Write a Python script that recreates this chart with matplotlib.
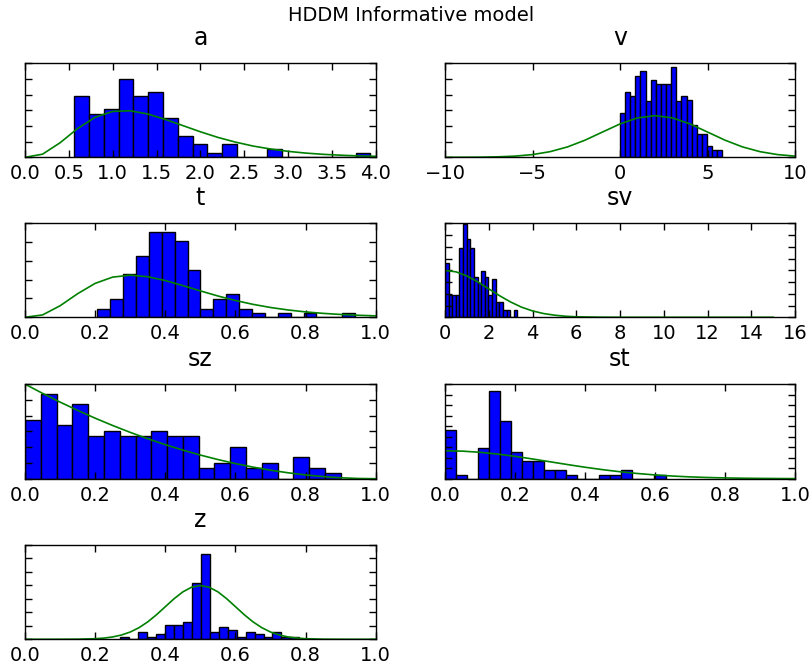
import numpy as np
import matplotlib.pyplot as plt

# posterior histograms: bin range and bar heights (density), 20 bins each
a_range = (0.56, 3.94)
a_heights = [0.777, 0.555, 0.611, 0.999, 0.777, 0.833, 0.50, 0.278, 0.167, 0.056,
             0.167, 0, 0, 0.111, 0, 0, 0, 0, 0, 0.056]

v_range = (0.0, 5.85)
v_heights = [0.141, 0.208, 0.195, 0.260, 0.275, 0.181, 0.248, 0.233, 0.233, 0.233,
             0.287, 0.181, 0.195, 0.183, 0.103, 0.076, 0.076, 0.036, 0.022, 0.022]

t_range = (0.206, 0.941)
t_heights = [0.46, 0.97, 2.29, 3.28, 4.56, 4.56, 4.06, 2.50, 0.46, 0.97,
             1.22, 0.46, 0.23, 0, 0.23, 0, 0.23, 0, 0, 0.23]

sv_range = (0.0, 3.31)
sv_heights = [0.46, 0.19, 0.19, 0.19, 0.59, 0.79, 0.665, 0.59, 0.34, 0.29,
              0.39, 0.34, 0.19, 0.33, 0.13, 0.13, 0.064, 0.064, 0, 0.064]

sz_range = (0.0, 0.9)
sz_heights = [1.859, 2.683, 1.690, 2.356, 1.352, 1.521, 1.352, 1.352, 1.521, 1.352,
              1.352, 0.338, 0.507, 1.014, 0.338, 0.507, 0, 0.676, 0.338, 0.169]

st_range = (0.0, 0.63)
st_heights = [4.60, 0.38, 0, 2.92, 8.37, 5.45, 2.54, 1.71, 1.71, 0.86,
              0.86, 0.38, 0, 0, 0.38, 0.38, 0.86, 0, 0, 0.38]

z_range = (0.272, 0.782)
z_heights = [0.18, 0, 0.54, 0.18, 0.36, 1.08, 1.08, 1.26, 4.15, 6.32,
             0.54, 0.90, 0.72, 0.18, 0.54, 0.36, 0.18, 0.54, 0.18, 0.18]

# prior curves (green)
a_prior_x = [0.0, 0.2, 0.4, 0.6, 0.8, 1.0, 1.2, 1.4, 1.6, 1.8, 2.0,
             2.2, 2.4, 2.6, 2.8, 3.0, 3.2, 3.4, 3.6, 3.8, 4.0]
a_prior_y = [0.0, 0.040, 0.186, 0.368, 0.511, 0.586, 0.594, 0.553, 0.484, 0.405, 0.326,
             0.254, 0.194, 0.144, 0.106, 0.076, 0.054, 0.038, 0.027, 0.018, 0.013]

v_prior_x = [-10, -9, -8, -7, -6, -5, -4, -3, -2, -1, 0,
             1, 2, 3, 4, 5, 6, 7, 8, 9, 10]
v_prior_y = [0.0000, 0.0002, 0.0005, 0.0015, 0.0038, 0.0087, 0.0180, 0.0332, 0.0547, 0.0807, 0.1065,
             0.1258, 0.1330, 0.1258, 0.1065, 0.0807, 0.0547, 0.0332, 0.0180, 0.0087, 0.0038]

t_prior_x = [0.0, 0.05, 0.1, 0.15, 0.2, 0.25, 0.3, 0.35, 0.4, 0.45, 0.5,
             0.55, 0.6, 0.65, 0.7, 0.75, 0.8, 0.85, 0.9, 0.95, 1.0]
t_prior_y = [0.0, 0.126, 0.613, 1.255, 1.805, 2.138, 2.240, 2.158, 1.954, 1.687, 1.404,
             1.133, 0.892, 0.688, 0.521, 0.389, 0.286, 0.208, 0.150, 0.107, 0.076]

sv_prior_x = [0.0, 0.5, 1.0, 1.5, 2.0, 2.5, 3.0, 3.5, 4.0, 4.5, 5.0, 5.5, 6.0,
              7.0, 8.0, 9.0, 10.0, 11.0, 12.0, 13.0, 14.0, 15.0]
sv_prior_y = [0.399, 0.387, 0.352, 0.301, 0.242, 0.183, 0.130, 0.086, 0.054, 0.032, 0.018, 0.009, 0.004,
              0.001, 0.0001, 0, 0, 0, 0, 0, 0, 0]

sz_prior_x = [0.0, 0.05, 0.1, 0.15, 0.2, 0.25, 0.3, 0.35, 0.4, 0.45, 0.5,
              0.55, 0.6, 0.65, 0.7, 0.75, 0.8, 0.85, 0.9, 0.95, 1.0]
sz_prior_y = [3.0, 2.708, 2.43, 2.168, 1.92, 1.688, 1.47, 1.268, 1.08, 0.908, 0.75,
              0.608, 0.48, 0.368, 0.27, 0.188, 0.12, 0.068, 0.03, 0.008, 0.0]

st_prior_x = [0.0, 0.05, 0.1, 0.15, 0.2, 0.25, 0.3, 0.35, 0.4, 0.45, 0.5,
              0.55, 0.6, 0.65, 0.7, 0.75, 0.8, 0.85, 0.9, 0.95, 1.0]
st_prior_y = [2.660, 2.623, 2.516, 2.347, 2.130, 1.879, 1.613, 1.347, 1.093, 0.864, 0.663,
              0.496, 0.360, 0.254, 0.175, 0.117, 0.076, 0.048, 0.030, 0.018, 0.010]

z_prior_x = [0.0, 0.05, 0.1, 0.15, 0.2, 0.225, 0.25, 0.275, 0.3, 0.325, 0.35, 0.375, 0.4, 0.425,
             0.45, 0.475, 0.5, 0.525, 0.55, 0.575, 0.6, 0.625, 0.65, 0.675, 0.7, 0.725,
             0.75, 0.775, 0.8, 0.85, 0.9, 0.95, 1.0]
z_prior_y = [0.0, 0.0002, 0.0013, 0.0087, 0.0443, 0.0909, 0.1753, 0.3174, 0.5399, 0.8629, 1.2952, 1.8264, 2.4197, 3.0113,
             3.5207, 3.8667, 3.9894, 3.8667, 3.5207, 3.0113, 2.4197, 1.8264, 1.2952, 0.8629, 0.5399, 0.3174,
             0.1753, 0.0909, 0.0443, 0.0087, 0.0013, 0.0002, 0.0]

fig = plt.figure(figsize=(8.1, 6.66), dpi=100)
fig.suptitle('HDDM Informative model', x=0.508, y=0.991, va='top', fontsize=14)

# name, heights, range, prior, xlim, xticks, ylim top, ystep, axes position
panels = [
    ('a', a_heights, a_range, a_prior_x, a_prior_y, (0, 4), np.arange(0, 4.01, 0.5), 1.2, 0.2, [0.0309, 0.7638, 0.4330, 0.1411]),
    ('v', v_heights, v_range, v_prior_x, v_prior_y, (-10, 10), [-10, -5, 0, 5, 10], 0.3, 0.05, [0.5494, 0.7638, 0.4321, 0.1411]),
    ('t', t_heights, t_range, t_prior_x, t_prior_y, (0, 1), np.arange(0, 1.01, 0.2), 5, 1, [0.0309, 0.5236, 0.4330, 0.1411]),
    ('sv', sv_heights, sv_range, sv_prior_x, sv_prior_y, (0, 16), np.arange(0, 17, 2), 0.8, 0.1, [0.5494, 0.5236, 0.4321, 0.1411]),
    ('sz', sz_heights, sz_range, sz_prior_x, sz_prior_y, (0, 1), np.arange(0, 1.01, 0.2), 3, 0.5, [0.0309, 0.2812, 0.4330, 0.1420]),
    ('st', st_heights, st_range, st_prior_x, st_prior_y, (0, 1), np.arange(0, 1.01, 0.2), 9, 1, [0.5494, 0.2812, 0.4321, 0.1420]),
    ('z', z_heights, z_range, z_prior_x, z_prior_y, (0, 1), np.arange(0, 1.01, 0.2), 7, 1, [0.0309, 0.0401, 0.4330, 0.1416]),
]

for name, heights, rng, px, py, xlim, xticks, ytop, ystep, pos in panels:
    ax = fig.add_axes(pos)
    edges = np.linspace(rng[0], rng[1], len(heights) + 1)
    ax.bar(edges[:-1], heights, width=np.diff(edges), align='edge',
           color='#0000ff', edgecolor='black', linewidth=1)
    ax.plot(px, py, color='#008000', linewidth=1.2)
    ax.set_xlim(xlim)
    ax.set_ylim(0, ytop)
    ax.set_xticks(xticks)
    ax.set_yticks(np.arange(0, ytop + ystep / 2, ystep))
    ax.tick_params(direction='in', top=True, right=True, length=5, width=1,
                   labelsize=14, pad=5, labelleft=False)
    ax.set_title(name, fontsize=17, pad=13)
    for s in ax.spines.values():
        s.set_linewidth(1)

fig.savefig('out.png', dpi=100)
